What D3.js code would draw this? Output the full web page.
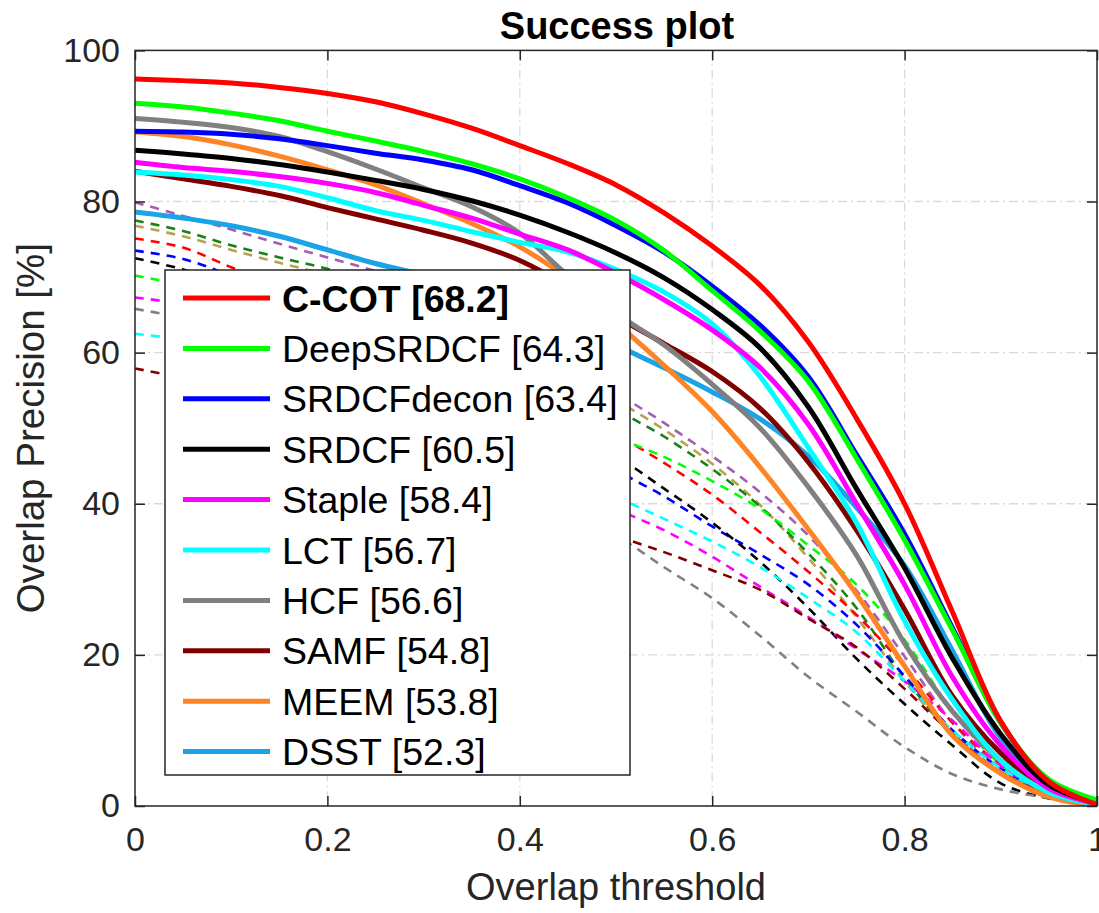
<!DOCTYPE html>
<html><head><meta charset="utf-8">
<script src="https://cdn.jsdelivr.net/npm/d3@7"></script>
<style>
html,body{margin:0;padding:0;background:#fff;}
svg{display:block;font-family:"Liberation Sans",Arial,Helvetica,sans-serif;}
</style></head>
<body>
<svg id="chart" width="1099" height="913"></svg>
<script>
// ---------- data ----------
const thresholds = [0,0.05,0.1,0.15,0.2,0.25,0.3,0.35,0.4,0.45,0.5,0.55,0.6,0.65,0.7,0.75,0.8,0.85,0.9,0.95,1.0];
const xTicks = [0,0.2,0.4,0.6,0.8,1];
const xTickLabels = ["0","0.2","0.4","0.6","0.8","1"];
const yTicks = [0,20,40,60,80,100];
const yTickLabels = ["0","20","40","60","80","100"];

// legend (solid) trackers
const legendNames = ["C-COT [68.2]","DeepSRDCF [64.3]","SRDCFdecon [63.4]","SRDCF [60.5]","Staple [58.4]","LCT [56.7]","HCF [56.6]","SAMF [54.8]","MEEM [53.8]","DSST [52.3]"];
const legendColors = ["#ff0000","#00ff00","#0000ff","#000000","#ff00ff","#00ffff","#808080","#800000","#ff8426","#1aa3e6"];
const ccot       = [96.2,96.0,95.7,95.1,94.3,93.2,91.6,89.7,87.4,85.0,82.2,78.5,74.1,68.9,61.4,51.3,40.0,25.6,11.2,3.2,0.2];
const deepsrdcf  = [93.0,92.5,91.7,90.7,89.3,88.0,86.6,85.0,83.0,80.5,77.5,73.5,68.2,62.8,56.2,46.0,35.2,23.2,11.0,3.5,0.8];
const srdcfdecon = [89.3,89.2,88.9,88.3,87.4,86.4,85.5,84.2,82.1,79.8,76.8,73.3,68.8,63.6,56.8,46.5,36.0,23.5,11.0,3.3,0.5];
const srdcf      = [86.8,86.3,85.7,84.9,83.9,82.8,81.6,80.1,78.2,75.9,73.2,69.9,65.7,60.6,52.8,42.0,31.5,19.5,9.5,2.8,0.4];
const staple     = [85.2,84.5,84.0,83.3,82.4,81.2,79.5,77.8,75.7,73.6,70.5,67.0,63.0,58.0,50.5,40.0,29.3,17.0,8.0,2.3,0.3];
const lct        = [83.9,83.5,82.9,82.0,80.5,78.8,77.5,76.0,74.6,73.3,71.0,68.0,63.8,56.8,47.4,37.5,24.5,14.0,6.0,1.8,0.2];
const hcf        = [91.0,90.5,89.8,88.6,86.6,84.3,81.8,79.3,75.8,70.2,65.2,61.0,55.8,50.0,42.2,33.2,21.5,12.5,6.0,1.8,0.2];
const samf       = [84.0,83.0,82.0,80.8,79.2,77.7,76.2,74.5,72.2,68.8,64.8,61.2,57.5,52.6,45.5,36.5,26.0,14.5,7.0,2.0,0.2];
const meem       = [89.2,88.6,87.5,86.0,84.2,82.2,79.7,77.1,74.0,69.8,64.0,58.3,52.2,44.8,36.6,28.0,18.5,9.3,4.3,1.2,0.0];
const dsst       = [78.6,77.8,76.8,75.4,73.6,71.8,70.3,68.5,66.5,64.2,61.0,58.0,54.8,51.2,46.3,39.5,31.8,20.5,9.0,2.8,0.5];
const solidSeries = [ccot,deepsrdcf,srdcfdecon,srdcf,staple,lct,hcf,samf,meem,dsst];

// unlabeled (dashed) trackers
const dashedColors = ["#a35db3","#b8a250","#1a801a","#ff0000","#0000ff","#000000","#00ff00","#ff00ff","#808080","#00ffff","#800000"];
const dPurple  = [79.9,78.1,76.3,74.4,72.6,70.8,68.8,66.4,63.6,59.8,54.8,50.7,46.3,41.5,35.8,28.5,19.8,11.0,5.0,1.8,0.5];
const dOlive   = [76.8,75.4,73.6,71.9,70.3,68.6,66.7,64.4,61.6,58.0,53.8,49.8,45.3,39.8,32.8,25.0,16.5,9.5,4.5,1.5,0.3];
const dDkGreen = [77.5,76.1,74.2,72.6,71.1,69.4,67.5,65.2,62.3,58.8,52.7,48.9,44.6,39.6,33.4,26.2,17.0,9.5,4.5,1.5,0.3];
const dRed     = [75.1,73.9,71.3,68.9,66.5,64.0,61.5,58.8,55.8,52.5,49.2,45.4,41.2,36.2,31.0,25.3,18.5,11.0,5.5,2.0,0.3];
const dBlue    = [73.5,72.4,70.2,68.0,65.6,63.0,60.3,57.3,53.9,50.0,44.6,41.0,37.0,33.3,29.3,24.0,17.2,10.0,5.0,1.8,0.3];
const dBlack   = [72.5,71.0,68.8,66.5,64.0,61.3,58.5,55.5,52.2,48.7,46.2,42.0,37.5,32.3,26.2,19.5,13.5,8.0,3.0,1.0,0.2];
const dGreen   = [70.2,68.9,67.2,65.5,63.6,61.6,59.5,57.2,54.7,51.8,48.8,46.2,43.0,39.3,34.5,29.3,22.0,12.5,5.5,2.0,0.3];
const dMagenta = [67.3,66.4,64.8,62.9,60.7,58.2,55.5,52.4,49.0,44.5,39.5,36.5,33.0,29.0,25.0,20.8,16.5,11.3,5.3,1.8,0.3];
const dGray    = [65.8,64.5,62.3,59.8,57.0,53.9,50.5,46.8,42.8,38.7,35.8,31.6,27.5,22.5,17.1,12.5,7.8,4.2,2.2,1.1,0.5];
const dCyan    = [62.5,61.7,60.4,58.9,57.2,55.3,53.2,50.8,48.0,44.6,41.0,38.0,35.0,31.6,27.5,23.0,16.5,10.0,5.0,1.8,0.3];
const dDkRed   = [57.9,56.6,54.8,52.8,50.6,48.3,46.0,43.6,41.0,38.4,35.8,33.6,31.2,28.6,24.8,21.0,15.5,9.5,4.5,1.5,0.3];
const dashedSeries = [dPurple,dOlive,dDkGreen,dRed,dBlue,dBlack,dGreen,dMagenta,dGray,dCyan,dDkRed];

// ---------- drawing ----------
const svg = d3.select("#chart");
const L = 135, R = 1097, T = 50.4, B = 806;
const x = d3.scaleLinear().domain([0,1]).range([L,R]);
const y = d3.scaleLinear().domain([0,100]).range([B,T]);
const FONT = "'Liberation Sans',Arial,Helvetica,sans-serif";

svg.append("rect").attr("x",0).attr("y",0).attr("width",1099).attr("height",913).attr("fill","#fff");

svg.append("defs").append("clipPath").attr("id","plotclip")
  .append("rect").attr("x",L).attr("y",T-3).attr("width",R-L+2).attr("height",B-T+3);

// grid
const grid = svg.append("g").attr("stroke","#dadada").attr("stroke-width",1.3).attr("stroke-dasharray","9,4,2,4");
xTicks.slice(1,-1).forEach(t=>grid.append("line").attr("x1",x(t)).attr("x2",x(t)).attr("y1",T).attr("y2",B));
yTicks.slice(1,-1).forEach(t=>grid.append("line").attr("x1",L).attr("x2",R).attr("y1",y(t)).attr("y2",y(t)));

// curves
const line = d3.line().x((d,i)=>x(thresholds[i])).y(d=>y(d)).curve(d3.curveCatmullRom.alpha(0.5));
const plot = svg.append("g").attr("clip-path","url(#plotclip)").attr("fill","none");
dashedSeries.forEach((s,i)=>{
  plot.append("path").attr("d",line(s)).attr("stroke",dashedColors[i])
    .attr("stroke-width",2.6).attr("stroke-dasharray","9,7");
});
for(let i=solidSeries.length-1;i>=0;i--){
  plot.append("path").attr("d",line(solidSeries[i])).attr("stroke",legendColors[i])
    .attr("stroke-width",5).attr("stroke-linejoin","round");
}

// axes
const axColor = "#262626";
const xAxis = svg.append("g").attr("transform",`translate(0,${B})`)
  .call(d3.axisBottom(x).tickValues(xTicks).tickFormat((d,i)=>xTickLabels[i]).tickSize(-10).tickSizeOuter(0).tickPadding(21));
const yAxis = svg.append("g").attr("transform",`translate(${L},0)`)
  .call(d3.axisLeft(y).tickValues(yTicks).tickFormat((d,i)=>yTickLabels[i]).tickSize(-10).tickSizeOuter(0).tickPadding(15));
const xTop = svg.append("g").attr("transform",`translate(0,${T})`)
  .call(d3.axisTop(x).tickValues(xTicks).tickFormat("").tickSize(-10).tickSizeOuter(0));
const yRight = svg.append("g").attr("transform",`translate(${R},0)`)
  .call(d3.axisRight(y).tickValues(yTicks).tickFormat("").tickSize(-10).tickSizeOuter(0));
[xAxis,yAxis,xTop,yRight].forEach(g=>{
  g.select(".domain").remove();
  g.selectAll(".tick line").attr("stroke",axColor).attr("stroke-width",1.5);
  g.selectAll(".tick text").attr("fill",axColor).style("font-family",FONT).style("font-size","34px");
});
svg.append("rect").attr("x",L).attr("y",T).attr("width",R-L).attr("height",B-T)
  .attr("fill","none").attr("stroke",axColor).attr("stroke-width",1.5);

// labels
svg.append("text").attr("x",617).attr("y",39).attr("text-anchor","middle")
  .style("font-family",FONT).style("font-size","38px").style("font-weight","bold").attr("fill","#000").text("Success plot");
svg.append("text").attr("x",616).attr("y",900).attr("text-anchor","middle")
  .style("font-family",FONT).style("font-size","38px").attr("fill",axColor).text("Overlap threshold");
svg.append("text").attr("transform",`translate(44,${(T+B)/2}) rotate(-90)`).attr("text-anchor","middle")
  .style("font-family",FONT).style("font-size","38.5px").attr("fill",axColor).text("Overlap Precision [%]");

// legend
const lg = svg.append("g");
lg.append("rect").attr("x",165).attr("y",270).attr("width",465).attr("height",505)
  .attr("fill","#fff").attr("stroke",axColor).attr("stroke-width",1.5);
legendNames.forEach((n,i)=>{
  const cy = 298 + i*50.4;
  lg.append("line").attr("x1",183).attr("x2",270).attr("y1",cy).attr("y2",cy)
    .attr("stroke",legendColors[i]).attr("stroke-width",5);
  lg.append("text").attr("x",282).attr("y",cy).attr("dy","0.36em")
    .style("font-family",FONT).style("font-size","37.5px").style("font-weight",i===0?"bold":"normal")
    .attr("fill","#000").text(n);
});
</script>
</body></html>
